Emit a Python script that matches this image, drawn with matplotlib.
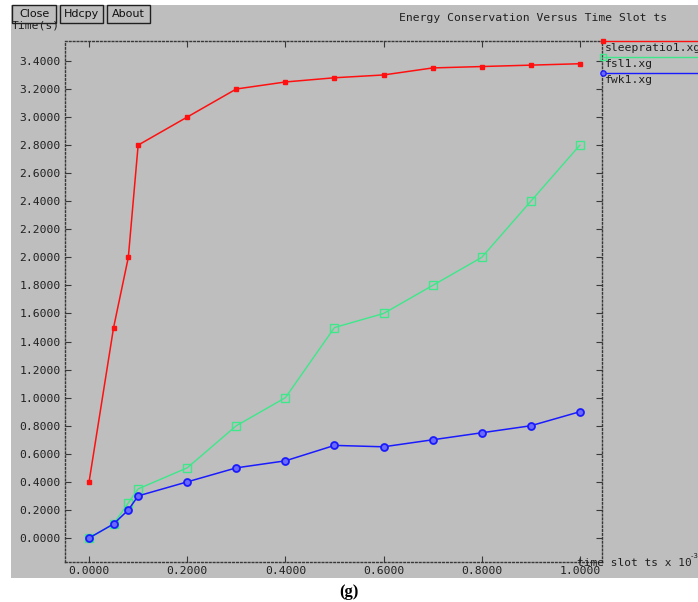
import matplotlib
matplotlib.use("Agg")
import matplotlib.pyplot as plt
from matplotlib.patches import Rectangle
from matplotlib.lines import Line2D
import numpy as np

# data
slot = [0.0, 0.05, 0.08, 0.1, 0.2, 0.3, 0.4, 0.5, 0.6, 0.7, 0.8, 0.9, 1.0]
sleepratio = [0.40, 1.50, 2.00, 2.80, 3.00, 3.20, 3.25, 3.28, 3.30, 3.35, 3.36, 3.37, 3.38]
fsl = [0.00, 0.10, 0.25, 0.35, 0.50, 0.80, 1.00, 1.50, 1.60, 1.80, 2.00, 2.40, 2.80]
fwk = [0.00, 0.10, 0.20, 0.30, 0.40, 0.50, 0.55, 0.66, 0.65, 0.70, 0.75, 0.80, 0.90]
names = ["sleepratio1.xg", "fsl1.xg", "fwk1.xg"]
xticks = [0.0, 0.2, 0.4, 0.6, 0.8, 1.0]
yticks = np.round(np.arange(0, 3.41, 0.2), 1)

W, H = 698, 602
GRAY = "#bebebe"
MONO = "DejaVu Sans Mono"
RED, GREEN, BLUE = "#ff1010", "#3de88a", "#1a1aff"
FRAME = "#383838"

fig = plt.figure(figsize=(W / 100, H / 100), dpi=100)
fig.patch.set_facecolor("white")

def fx(px):
    return px / W

def fy(py):
    return 1 - py / H

# gray window background
fig.patches.append(Rectangle((fx(11), fy(578)), 1 - fx(11), fy(5) - fy(578),
                             transform=fig.transFigure, facecolor=GRAY,
                             edgecolor="none", zorder=-5))

ax = fig.add_axes([fx(65), fy(562), fx(602) - fx(65), fy(41) - fy(562)])
ax.set_facecolor(GRAY)
for s in ax.spines.values():
    s.set_linestyle((0, (1.2, 1.6)))
    s.set_linewidth(1.0)
    s.set_color(FRAME)

mk_red = dict(marker="s", ms=3.2, mfc=RED, mec=RED)
mk_green = dict(marker="s", ms=5.5, mfc="none", mec=GREEN, mew=1.0)
mk_blue = dict(marker="o", ms=5, mfc="#6a6aff", mec=BLUE, mew=1.3)

ax.plot(slot, sleepratio, color=RED, lw=1.1, **mk_red)
ax.plot(slot, fsl, color=GREEN, lw=1.0, **mk_green)
ax.plot(slot, fwk, color=BLUE, lw=1.1, **mk_blue)

ax.set_xlim(-0.049, 1.045)
ax.set_ylim(-0.171, 3.542)
ax.set_xticks(xticks)
ax.set_yticks(yticks)
ax.set_xticklabels(["%.4f" % v for v in xticks])
ax.set_yticklabels(["%.4f" % v for v in yticks])
ax.tick_params(direction="in", length=4, width=0.8, color=FRAME,
               top=True, right=True, labelsize=8.2, labelcolor="#202020", pad=3)
for lab in ax.get_xticklabels() + ax.get_yticklabels():
    lab.set_family(MONO)

# title and axis labels, xgraph style
fig.text(fx(533), fy(18), "Energy Conservation Versus Time Slot ts", family=MONO,
         fontsize=8.2, color="#202020", ha="center", va="center")
fig.text(fx(12), fy(25), "Time(s)", family=MONO, fontsize=8.2, color="#202020",
         ha="left", va="center")
fig.text(fx(577), fy(563), "time slot ts x 10", family=MONO, fontsize=8,
         color="#202020", ha="left", va="center")
fig.text(fx(690), fy(556), "-3", family=MONO, fontsize=5.3, color="#202020",
         ha="left", va="center")

# buttons
for label, x0, x1 in [("Close", 12, 56), ("Hdcpy", 60, 103), ("About", 107, 150)]:
    fig.patches.append(Rectangle((fx(x0), fy(23)), fx(x1) - fx(x0), fy(5) - fy(23),
                                 transform=fig.transFigure, facecolor=GRAY,
                                 edgecolor="#202020", lw=1.0, zorder=3))
    fig.text(fx((x0 + x1) / 2), fy(14), label, fontsize=8, color="#101010",
             ha="center", va="center", zorder=4)

# legend at the right, outside the frame
leg = [(RED, 41, dict(mk_red, ms=3)),
       (GREEN, 57, dict(mk_green, ms=4)),
       (BLUE, 73, dict(mk_blue, ms=3.8, mew=1.0))]
for (col, py, mk), name in zip(leg, names):
    fig.add_artist(Line2D([fx(603), 1.0], [fy(py), fy(py)], color=col, lw=1.0,
                          transform=fig.transFigure, markevery=[0], **mk))
    fig.text(fx(605), fy(py + 7), name, family=MONO, fontsize=8.2, color="#202020",
             ha="left", va="center")

fig.text(0.5, fy(592), "(g)", family="Liberation Serif", fontweight="bold",
         fontsize=12, ha="center", va="center")

fig.savefig("out.png", dpi=100, facecolor="white")
